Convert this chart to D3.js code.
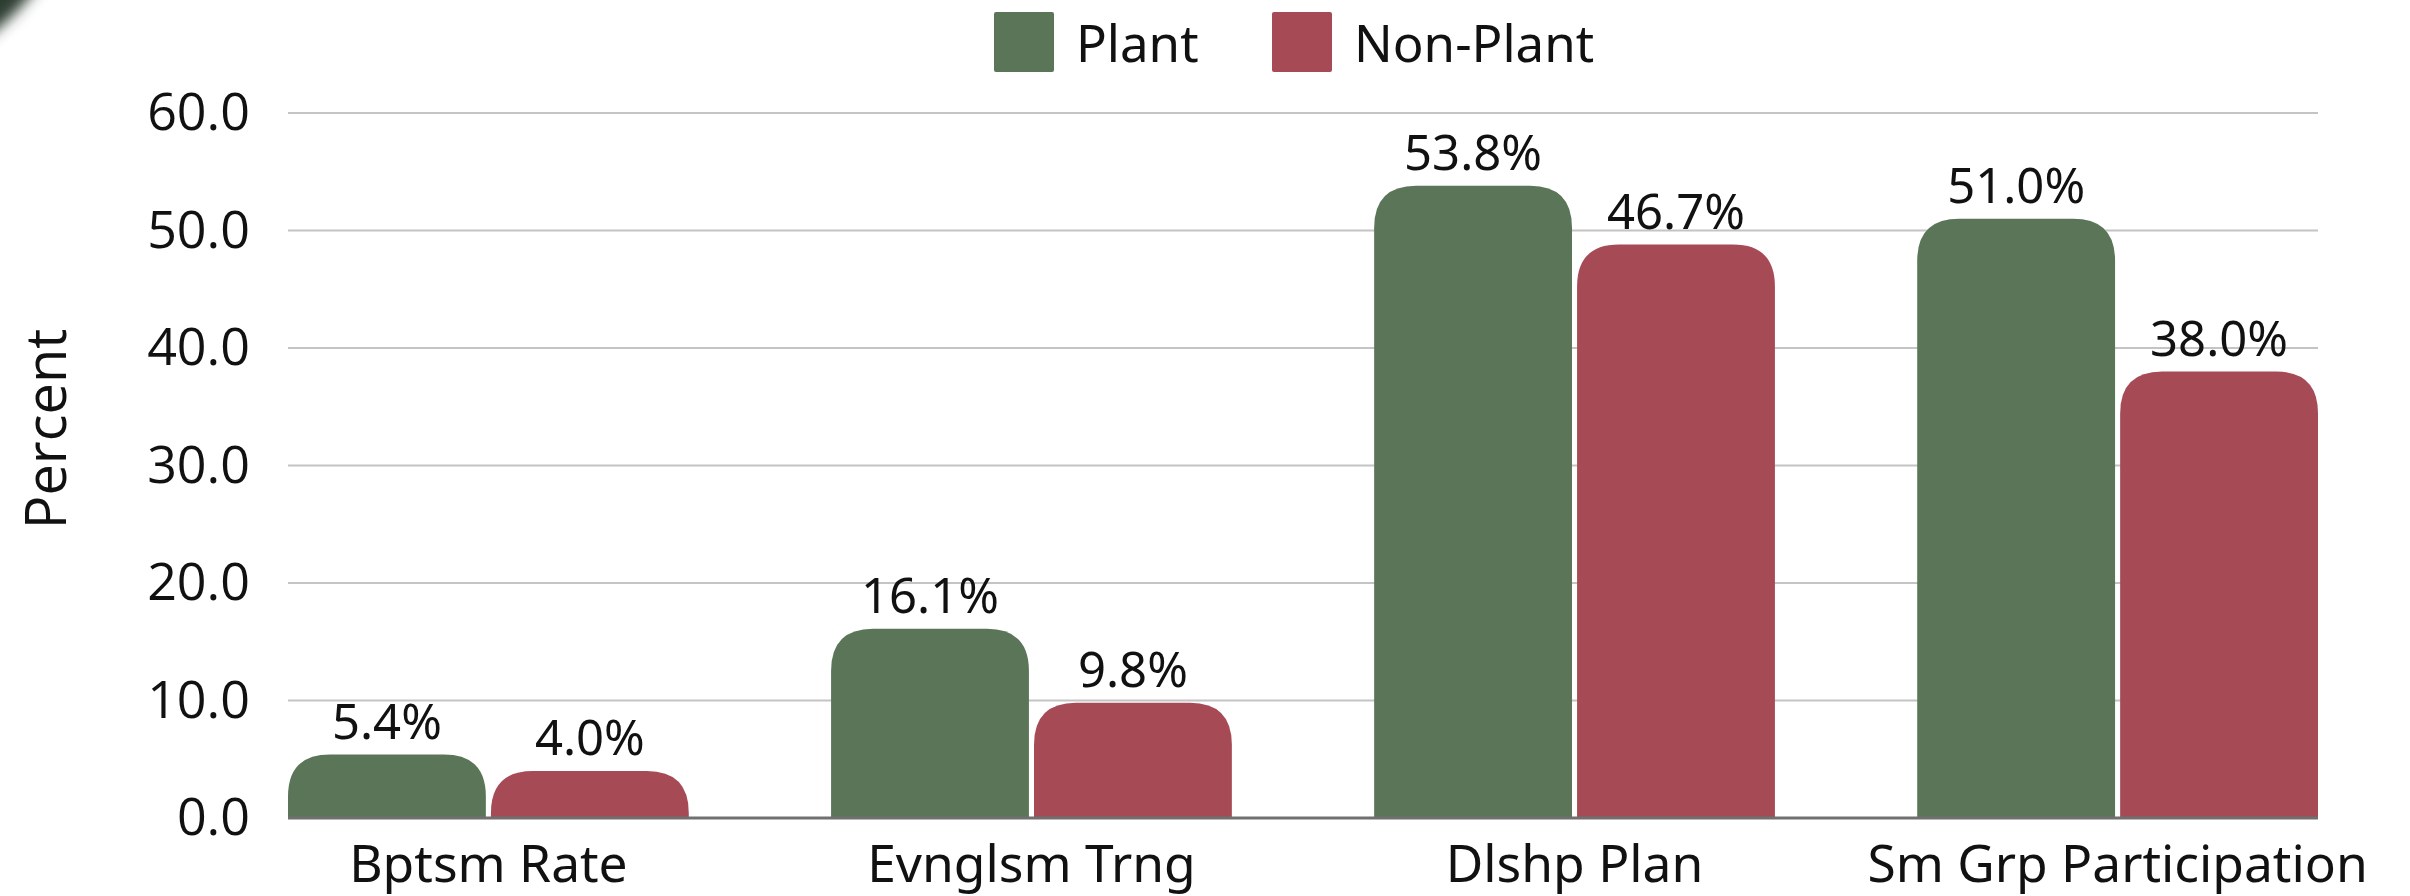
<!DOCTYPE html>
<html><head><meta charset="utf-8">
<script src="https://cdn.jsdelivr.net/npm/d3@7"></script>
<style>
html,body{margin:0;padding:0;background:#fff;}
svg{display:block;}
</style></head>
<body>
<script>
const categories = ["Bptsm Rate", "Evnglsm Trng", "Dlshp Plan", "Sm Grp Participation"];
const seriesNames = ["Plant", "Non-Plant"];
const plantValues = [5.4, 16.1, 53.8, 51.0];
const nonPlantValues = [4.0, 9.8, 48.8, 38.0];
const plantLabels = ["5.4%", "16.1%", "53.8%", "51.0%"];
const nonPlantLabels = ["4.0%", "9.8%", "46.7%", "38.0%"];
const yTicks = [0, 10, 20, 30, 40, 50, 60];
const colors = ["#5b7558", "#a64a55"];

const W = 2410, H = 896;
const margin = {left: 288, right: 92, top: 113, bottom: 78};

const svg = d3.select("body").append("svg").attr("width", W).attr("height", H);

// decorative corner
const defs = svg.append("defs");
defs.append("filter").attr("id","blur").attr("x","-50%").attr("y","-50%").attr("width","200%").attr("height","200%")
  .append("feGaussianBlur").attr("stdDeviation", 7);
svg.append("circle").attr("cx", -150).attr("cy", -150).attr("r", 232)
  .attr("fill", "#2f3e30").attr("filter", "url(#blur)");

const x0 = d3.scaleBand().domain(categories).range([margin.left, W - margin.right]).paddingInner(0.262).paddingOuter(0);
const x1 = d3.scaleBand().domain(seriesNames).range([0, x0.bandwidth()]).paddingInner(0.025);
const y = d3.scaleLinear().domain([0, 60]).range([H - margin.bottom, margin.top]);

// gridlines
svg.append("g").selectAll("line").data(yTicks.filter(d => d > 0)).join("line")
  .attr("x1", margin.left).attr("x2", W - margin.right)
  .attr("y1", d => y(d)).attr("y2", d => y(d))
  .attr("stroke", "#c4c4c4").attr("stroke-width", 2);

// y axis labels
const yAxis = d3.axisLeft(y).tickValues(yTicks).tickFormat(d3.format(".1f")).tickSize(0).tickPadding(38);
const gy = svg.append("g").attr("transform", `translate(${margin.left},0)`).call(yAxis);
gy.select(".domain").remove();
gy.selectAll("text").attr("font-family", "'Open Sans', sans-serif").attr("font-size", 52).attr("fill", "#111");

// y title
svg.append("text").attr("transform", `translate(66,429) rotate(-90)`)
  .attr("text-anchor", "middle").attr("font-family", "'Open Sans', sans-serif").attr("font-size", 56).attr("fill", "#111")
  .text("Percent");

// bars
function roundTop(xp, yp, w, h, r) {
  r = Math.min(r, h, w / 2);
  return `M${xp},${yp + h} V${yp + r} Q${xp},${yp} ${xp + r},${yp} H${xp + w - r} Q${xp + w},${yp} ${xp + w},${yp + r} V${yp + h} Z`;
}
const series = [plantValues, nonPlantValues];
const labels = [plantLabels, nonPlantLabels];
series.forEach((vals, si) => {
  const g = svg.append("g");
  g.selectAll("path").data(categories).join("path")
    .attr("d", (c, i) => {
      const xp = x0(c) + x1(seriesNames[si]);
      const yp = y(vals[i]);
      return roundTop(xp, yp, x1.bandwidth(), y(0) - yp, 42);
    })
    .attr("fill", colors[si]);
  g.selectAll("text").data(categories).join("text")
    .attr("x", c => x0(c) + x1(seriesNames[si]) + x1.bandwidth() / 2)
    .attr("y", (c, i) => y(vals[i]) - 16)
    .attr("text-anchor", "middle").attr("font-family", "'Noto Sans', sans-serif").attr("font-size", 49).attr("fill", "#111")
    .text((c, i) => labels[si][i]);
});

// x axis baseline
svg.append("line").attr("x1", margin.left).attr("x2", W - margin.right)
  .attr("y1", y(0)).attr("y2", y(0)).attr("stroke", "#707070").attr("stroke-width", 3);

// x axis labels
const xAxis = d3.axisBottom(x0).tickSize(0).tickPadding(0);
const gx = svg.append("g").attr("transform", `translate(0,${y(0)})`).call(xAxis);
gx.select(".domain").remove();
gx.selectAll("text").attr("dy", 0).attr("y", 64).attr("font-family", "'Noto Sans', sans-serif").attr("font-size", 51.5).attr("fill", "#111");

// legend
const legend = svg.append("g");
const legendX = [994, 1272];
seriesNames.forEach((s, i) => {
  legend.append("rect").attr("x", legendX[i]).attr("y", 12).attr("width", 60).attr("height", 60).attr("rx", 2).attr("fill", colors[i]);
  legend.append("text").attr("x", legendX[i] + 82).attr("y", 62).attr("font-family", "'Noto Sans', sans-serif")
    .attr("font-size", 51).attr("fill", "#111").text(s);
});
</script>
</body></html>
